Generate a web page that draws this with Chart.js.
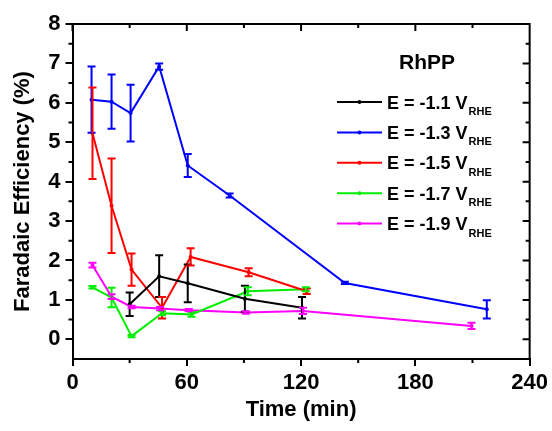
<!DOCTYPE html>
<html><head><meta charset="utf-8">
<script src="https://cdn.jsdelivr.net/npm/chart.js@4"></script>
<style>html,body{margin:0;padding:0;background:#fff}#wrap{width:552px;height:431px;position:relative}</style>
</head><body><div id="wrap"><canvas id="c"></canvas></div>
<script>
// ---- data ----
const seriesLabels = ['E = -1.1 V', 'E = -1.3 V', 'E = -1.5 V', 'E = -1.7 V', 'E = -1.9 V'];
const seriesSub = 'RHE';
const seriesColors = ['#000000', '#0000ff', '#ff0000', '#00ee00', '#ff00ff'];

const time11 = [30, 45.5, 60.5, 90.5, 120.5];
const fe11   = [0.89, 1.60, 1.42, 1.03, 0.80];
const err11  = [0.30, 0.53, 0.48, 0.33, 0.27];

const time13 = [10, 20.5, 30.5, 45.5, 60.5, 82.5, 143, 217.5];
const fe13   = [6.08, 6.03, 5.74, 6.92, 4.41, 3.65, 1.43, 0.76];
const err13  = [0.84, 0.69, 0.72, 0.08, 0.29, 0.05, 0.03, 0.23];

const time15 = [10.5, 20.5, 31, 47, 62, 92.5, 123];
const fe15   = [5.23, 3.39, 1.77, 0.80, 2.09, 1.70, 1.22];
const err15  = [1.16, 1.20, 0.41, 0.27, 0.22, 0.10, 0.07];

const time17 = [10.5, 20.5, 31, 47, 62.5, 92, 122.5];
const fe17   = [1.32, 1.06, 0.08, 0.66, 0.63, 1.22, 1.27];
const err17  = [0.03, 0.25, 0.03, 0.05, 0.06, 0.10, 0.05];

const time19 = [10.5, 20.5, 31, 46, 61, 91, 121, 209.5];
const fe19   = [1.88, 1.08, 0.82, 0.78, 0.74, 0.68, 0.72, 0.34];
const err19  = [0.06, 0.06, 0.03, 0.04, 0.03, 0.03, 0.08, 0.08];

const xTickStep = 60, xMinorStep = 30, xMin = 0, xMax = 240;
const yTickStep = 1, yMinorStep = 0.5, yMin = -0.5, yMax = 8;
const legendTitle = 'RhPP';
const xTitle = 'Time (min)';
const yTitle = 'Faradaic Efficiency (%)';

const seriesTimes = [time11, time13, time15, time17, time19];
const seriesFE = [fe11, fe13, fe15, fe17, fe19];
const seriesErr = [err11, err13, err15, err17, err19];

const FONT = "'Liberation Sans', Arial, Helvetica, sans-serif";
Chart.defaults.font.family = FONT;
Chart.defaults.color = '#000';

const datasets = seriesLabels.map((lab, i) => ({
  label: lab,
  data: seriesTimes[i].map((t, j) => ({x: t, y: seriesFE[i][j]})),
  borderColor: seriesColors[i],
  backgroundColor: seriesColors[i],
  borderWidth: 2,
  pointRadius: 2,
  pointBorderWidth: 0,
  tension: 0,
  errors: seriesErr[i]
}));

const errorBars = {
  id: 'errorBars',
  afterDatasetsDraw(chart) {
    const {ctx, scales: {x, y}} = chart;
    ctx.save();
    chart.data.datasets.forEach((ds) => {
      ctx.strokeStyle = ds.borderColor;
      ctx.lineWidth = 2;
      ds.data.forEach((p, j) => {
        const e = ds.errors[j];
        const px = x.getPixelForValue(p.x);
        const yt = y.getPixelForValue(p.y + e);
        const yb = y.getPixelForValue(p.y - e);
        const cw = 4;
        ctx.beginPath();
        ctx.moveTo(px, yt); ctx.lineTo(px, yb);
        ctx.moveTo(px - cw, yt); ctx.lineTo(px + cw, yt);
        ctx.moveTo(px - cw, yb); ctx.lineTo(px + cw, yb);
        ctx.stroke();
      });
    });
    ctx.restore();
  }
};

const frame = {
  id: 'frame',
  afterDraw(chart) {
    const {ctx, chartArea: a, scales: {x, y}} = chart;
    ctx.save();
    ctx.strokeStyle = '#000';
    ctx.lineWidth = 2;
    ctx.beginPath();
    ctx.moveTo(a.left, a.top); ctx.lineTo(a.right, a.top); ctx.lineTo(a.right, a.bottom);
    // x ticks: top inward, bottom minor outward
    for (let v = xMin; v <= xMax + 1e-6; v += xMinorStep) {
      const px = x.getPixelForValue(v);
      const major = Math.abs(v / xTickStep - Math.round(v / xTickStep)) < 1e-6;
      const len = major ? 7 : 4;
      ctx.moveTo(px, a.top); ctx.lineTo(px, a.top + len);
      if (!major) { ctx.moveTo(px, a.bottom); ctx.lineTo(px, a.bottom + len); }
    }
    // y ticks: right inward, left minor outward
    for (let v = 0; v <= yMax + 1e-6; v += yMinorStep) {
      const py = y.getPixelForValue(v);
      const major = Math.abs(v / yTickStep - Math.round(v / yTickStep)) < 1e-6;
      const len = major ? 7 : 4;
      ctx.moveTo(a.right, py); ctx.lineTo(a.right - len, py);
      if (!major) { ctx.moveTo(a.left, py); ctx.lineTo(a.left - len, py); }
    }
    ctx.stroke();

    // legend
    ctx.fillStyle = '#000';
    ctx.textAlign = 'center';
    ctx.textBaseline = 'alphabetic';
    ctx.font = 'bold 21px ' + FONT;
    ctx.fillText(legendTitle, 427, 69);
    const x0 = 337, x1 = 382, rowY0 = 102, rowH = 30.4;
    chart.data.datasets.forEach((ds, i) => {
      const ry = rowY0 + i * rowH;
      ctx.strokeStyle = ds.borderColor;
      ctx.lineWidth = 2;
      ctx.beginPath(); ctx.moveTo(x0, ry); ctx.lineTo(x1, ry); ctx.stroke();
      ctx.fillStyle = ds.borderColor;
      ctx.beginPath(); ctx.arc((x0 + x1) / 2, ry, 2, 0, Math.PI * 2); ctx.fill();
      ctx.fillStyle = '#000';
      ctx.textAlign = 'left';
      ctx.font = 'bold 18px ' + FONT;
      ctx.fillText(ds.label, 387, ry + 6.5);
      const w = ctx.measureText(ds.label).width;
      ctx.font = 'bold 11px ' + FONT;
      ctx.fillText(seriesSub, 387 + w + 1, ry + 13);
    });
    ctx.restore();
  }
};

new Chart(document.getElementById('c'), {
  type: 'line',
  data: {datasets},
  options: {
    responsive: true,
    maintainAspectRatio: false,
    animation: false,
    layout: {padding: {top: 24, right: 22, left: 0, bottom: 0}},
    plugins: {legend: {display: false}, tooltip: {enabled: false}},
    scales: {
      x: {
        type: 'linear', min: xMin, max: xMax,
        ticks: {stepSize: xTickStep, padding: 4, maxRotation: 0, font: {size: 22, weight: 'bold'}, color: '#000'},
        grid: {display: true, drawOnChartArea: false, drawTicks: true, tickLength: 7, color: '#000', lineWidth: 2},
        border: {display: true, color: '#000', width: 2},
        title: {display: true, text: xTitle, font: {size: 22, weight: 'bold'}, color: '#000', padding: {top: 0, bottom: 8}},
        afterFit(s) { s.height = 72; }
      },
      y: {
        type: 'linear', min: yMin, max: yMax,
        ticks: {stepSize: yTickStep, includeBounds: false, padding: 5, font: {size: 22, weight: 'bold'}, color: '#000'},
        grid: {display: true, drawOnChartArea: false, drawTicks: true, tickLength: 7, color: '#000', lineWidth: 2},
        border: {display: true, color: '#000', width: 2},
        title: {display: true, text: yTitle, font: {size: 22, weight: 'bold'}, color: '#000', padding: {top: 10, bottom: 0}},
        afterFit(s) { s.width = 72.5; }
      }
    }
  },
  plugins: [errorBars, frame]
});
</script>
</body></html>
